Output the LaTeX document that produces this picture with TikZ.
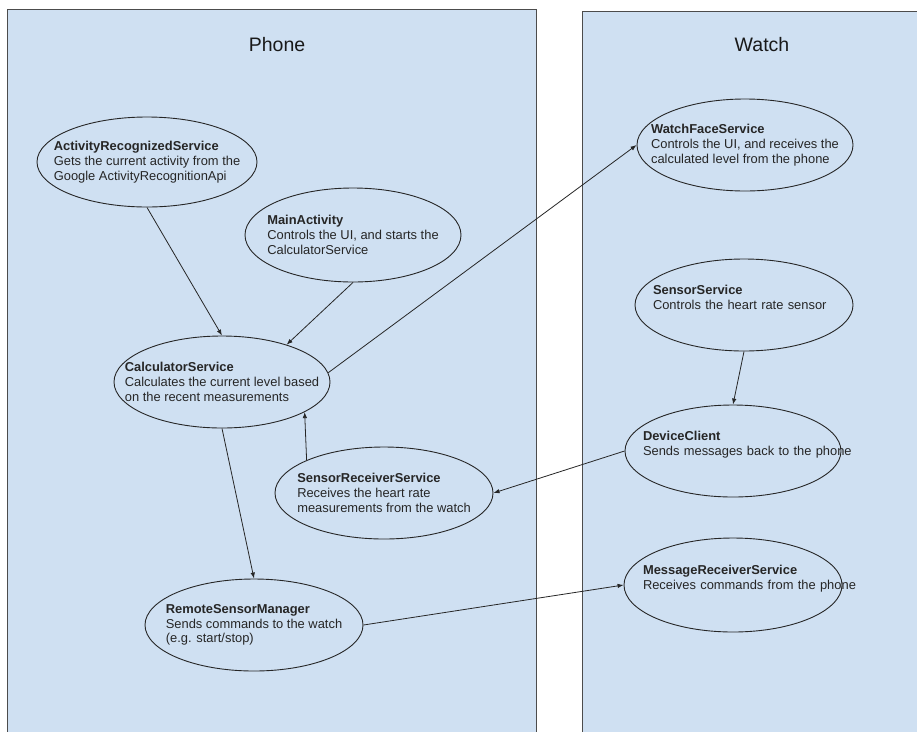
\documentclass[tikz,border=0pt]{standalone}
\usepackage{fontspec}
\setmainfont{Liberation Sans}
\usepackage{tikz}
\usepackage{xcolor}
\usetikzlibrary{shapes, arrows.meta}

\definecolor{panelblue}{HTML}{CFE0F2}

\begin{document}
\begin{tikzpicture}[x=1pt, y=-1pt,
	panel/.style={fill=panelblue, draw=black!70, line width=1pt},
	paneltitle/.style={font=\fontsize{19.5}{22}\selectfont, text=black!90},
	svc/.style={ellipse, draw=black!85, line width=0.9pt, inner xsep=-40pt, inner ysep=0pt, align=left, text=black!85, font=\fontsize{12.9}{14.7}\selectfont},
	arr/.style={-{Latex[length=6pt,width=4.5pt]}, draw=black!85, line width=0.8pt}]
			\clip (0,0) rectangle (917,731);
			\fill[white] (0,0) rectangle (917,731);
			\draw[panel] (7,9) rectangle (536,745);
			\draw[panel] (582,11) rectangle (930,745);
			\node[paneltitle] (phone) at (277,45) {Phone};
			\node[paneltitle] (watch) at (762,45) {Watch};

			\node[svc, minimum width=220, minimum height=90] (act) at (147,162) {\textbf{ActivityRecognizedService}\\Gets the current activity from the\\Google ActivityRecognitionApi};
			\node[svc, minimum width=216, minimum height=94] (main) at (353,235) {\textbf{MainActivity}\\Controls the UI, and starts the\\CalculatorService};
			\node[svc, minimum width=216, minimum height=92] (calc) at (222,382) {\textbf{CalculatorService}\\Calculates the current level based\\on the recent measurements};
			\node[svc, minimum width=218, minimum height=92] (srs) at (384,493) {\textbf{SensorReceiverService}\\Receives the heart rate\\measurements from the watch};
			\node[svc, minimum width=218, minimum height=92] (rsm) at (254,625) {\textbf{RemoteSensorManager}\\Sends commands to the watch\\(e.g. start/stop)};

			\node[svc, minimum width=216, minimum height=92] (wf) at (745,145) {\textbf{WatchFaceService}\\Controls the UI, and receives the\\calculated level from the phone};
			\node[svc, minimum width=218, minimum height=92, text width=182] (ss) at (744,305) {\textbf{SensorService}\\Controls the heart rate sensor\\ \mbox{}};
			\node[svc, minimum width=216, minimum height=92, text width=180] (dc) at (733,451) {\textbf{DeviceClient}\\\mbox{Sends messages back to the phone}\\ \mbox{}};
			\node[svc, minimum width=218, minimum height=94, text width=180] (mrs) at (733,585) {\textbf{MessageReceiverService}\\\mbox{Receives commands from the phone}\\ \mbox{}};

			\draw[arr] (act.south) -- (calc.north);
			\draw[arr] (main.south) -- (calc.30);
			\draw[arr] (calc.5) -- (wf.west);
			\draw[arr] (srs.157) -- (calc.-20);
			\draw[arr] (calc.south) -- (rsm.north);
			\draw[arr] (ss.south) -- (dc.north);
			\draw[arr] (dc.west) -- (srs.east);
			\draw[arr] (rsm.east) -- (mrs.west);
\end{tikzpicture}
\end{document}
